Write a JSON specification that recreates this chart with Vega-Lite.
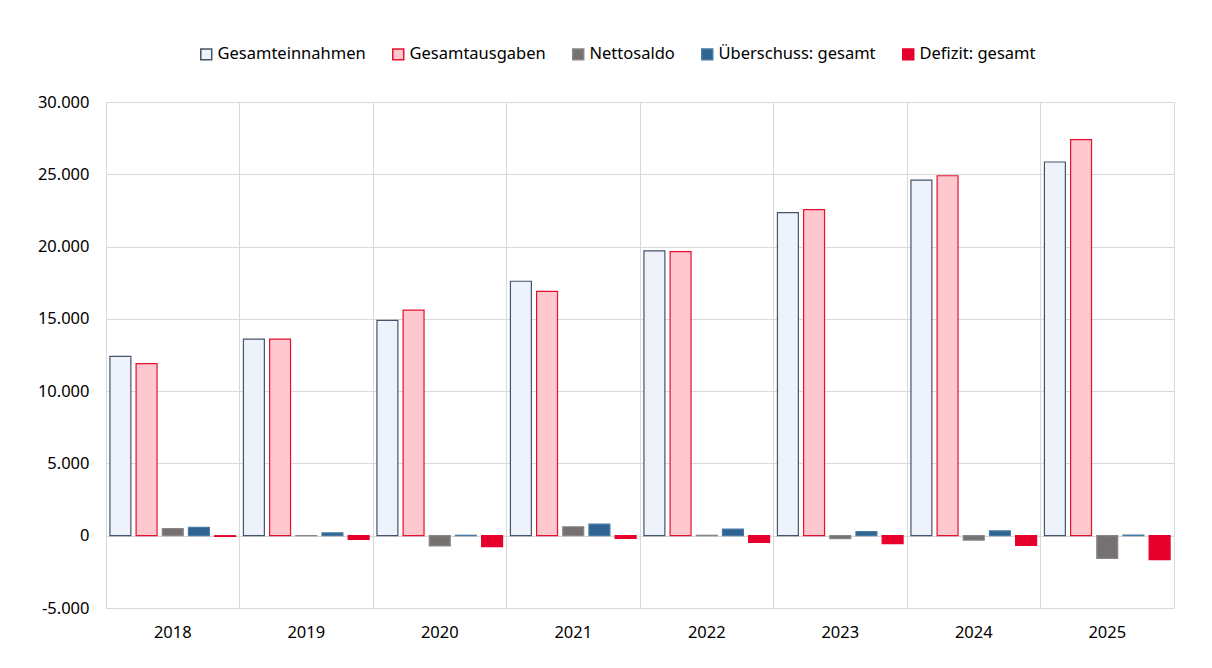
{
  "$schema": "https://vega.github.io/schema/vega-lite/v6.json",
  "width": 1068,
  "height": 506,
  "autosize": {"type": "none"},
  "padding": {"left": 106, "top": 102, "right": 38, "bottom": 60},
  "background": "white",
  "config": {
    "locale": {"number": {"decimal": ",", "thousands": ".", "grouping": [3], "currency": ["", " €"], "minus": "-"}},
    "font": "Noto Sans",
    "view": {"stroke": "#d9d9d9", "strokeWidth": 1}
  },
  "data": {"values": [
    {"year": "2018", "series": "Gesamteinnahmen", "value": 12400},
    {"year": "2018", "series": "Gesamtausgaben", "value": 11900},
    {"year": "2018", "series": "Nettosaldo", "value": 500},
    {"year": "2018", "series": "Überschuss: gesamt", "value": 580},
    {"year": "2018", "series": "Defizit: gesamt", "value": -50},
    {"year": "2019", "series": "Gesamteinnahmen", "value": 13600},
    {"year": "2019", "series": "Gesamtausgaben", "value": 13600},
    {"year": "2019", "series": "Nettosaldo", "value": 10},
    {"year": "2019", "series": "Überschuss: gesamt", "value": 200},
    {"year": "2019", "series": "Defizit: gesamt", "value": -250},
    {"year": "2020", "series": "Gesamteinnahmen", "value": 14900},
    {"year": "2020", "series": "Gesamtausgaben", "value": 15600},
    {"year": "2020", "series": "Nettosaldo", "value": -700},
    {"year": "2020", "series": "Überschuss: gesamt", "value": 30},
    {"year": "2020", "series": "Defizit: gesamt", "value": -760},
    {"year": "2021", "series": "Gesamteinnahmen", "value": 17600},
    {"year": "2021", "series": "Gesamtausgaben", "value": 16900},
    {"year": "2021", "series": "Nettosaldo", "value": 620},
    {"year": "2021", "series": "Überschuss: gesamt", "value": 800},
    {"year": "2021", "series": "Defizit: gesamt", "value": -180},
    {"year": "2022", "series": "Gesamteinnahmen", "value": 19700},
    {"year": "2022", "series": "Gesamtausgaben", "value": 19650},
    {"year": "2022", "series": "Nettosaldo", "value": 30},
    {"year": "2022", "series": "Überschuss: gesamt", "value": 460},
    {"year": "2022", "series": "Defizit: gesamt", "value": -460},
    {"year": "2023", "series": "Gesamteinnahmen", "value": 22350},
    {"year": "2023", "series": "Gesamtausgaben", "value": 22550},
    {"year": "2023", "series": "Nettosaldo", "value": -200},
    {"year": "2023", "series": "Überschuss: gesamt", "value": 280},
    {"year": "2023", "series": "Defizit: gesamt", "value": -550},
    {"year": "2024", "series": "Gesamteinnahmen", "value": 24600},
    {"year": "2024", "series": "Gesamtausgaben", "value": 24900},
    {"year": "2024", "series": "Nettosaldo", "value": -300},
    {"year": "2024", "series": "Überschuss: gesamt", "value": 330},
    {"year": "2024", "series": "Defizit: gesamt", "value": -670},
    {"year": "2025", "series": "Gesamteinnahmen", "value": 25850},
    {"year": "2025", "series": "Gesamtausgaben", "value": 27400},
    {"year": "2025", "series": "Nettosaldo", "value": -1570},
    {"year": "2025", "series": "Überschuss: gesamt", "value": 50},
    {"year": "2025", "series": "Defizit: gesamt", "value": -1660}
  ]},
  "mark": {"type": "bar", "strokeWidth": 1.2},
  "encoding": {
    "x": {
      "field": "year", "type": "nominal", "title": null,
      "scale": {"paddingInner": 0, "paddingOuter": 0},
      "axis": {"labelAngle": 0, "grid": true, "bandPosition": 0, "gridColor": "#d9d9d9", "domain": false, "ticks": false, "labelPadding": 16, "labelFontSize": 16.5, "labelColor": "#000000"}
    },
    "xOffset": {
      "field": "series", "type": "nominal",
      "sort": ["Gesamteinnahmen", "Gesamtausgaben", "Nettosaldo", "Überschuss: gesamt", "Defizit: gesamt"],
      "scale": {"paddingInner": 0.2, "paddingOuter": 0.15}
    },
    "y": {
      "field": "value", "type": "quantitative", "title": null,
      "scale": {"domain": [-5000, 30000], "nice": false},
      "axis": {"values": [-5000, 0, 5000, 10000, 15000, 20000, 25000, 30000], "format": ",.0f", "grid": true, "gridColor": "#d9d9d9", "domain": false, "ticks": false, "labelPadding": 17, "labelFontSize": 16.5, "labelColor": "#000000"}
    },
    "fill": {
      "field": "series", "type": "nominal", "title": null,
      "scale": {
        "domain": ["Gesamteinnahmen", "Gesamtausgaben", "Nettosaldo", "Überschuss: gesamt", "Defizit: gesamt"],
        "range": ["#EEF3FB", "#FFC7CE", "#767171", "#2E6491", "#E8002D"]
      },
      "legend": {"orient": "none", "legendX": 92, "legendY": -56, "direction": "horizontal", "symbolType": "square", "symbolSize": 120, "symbolStrokeWidth": 1.5, "labelFontSize": 16.5, "labelColor": "#000000", "columnPadding": 23, "labelOffset": 3}
    },
    "stroke": {
      "field": "series", "type": "nominal", "title": null,
      "scale": {
        "domain": ["Gesamteinnahmen", "Gesamtausgaben", "Nettosaldo", "Überschuss: gesamt", "Defizit: gesamt"],
        "range": ["#44546A", "#E8112D", "#8a8686", "#4a7aa3", "#E8002D"]
      }
    }
  }
}
